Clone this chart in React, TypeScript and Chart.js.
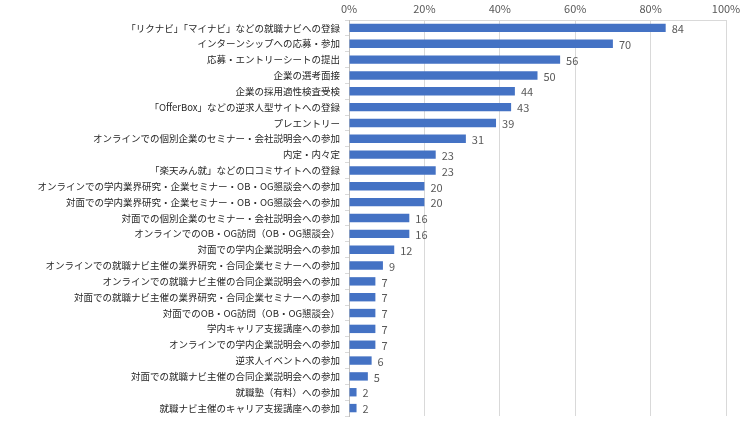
import React, { useEffect, useRef } from "react";
import { Chart, registerables } from "chart.js";

Chart.register(...registerables);

const categories: string[] = [
  "「リクナビ」「マイナビ」などの就職ナビへの登録",
  "インターンシップへの応募・参加",
  "応募・エントリーシートの提出",
  "企業の選考面接",
  "企業の採用適性検査受検",
  "「OfferBox」などの逆求人型サイトへの登録",
  "プレエントリー",
  "オンラインでの個別企業のセミナー・会社説明会への参加",
  "内定・内々定",
  "「楽天みん就」などの口コミサイトへの登録",
  "オンラインでの学内業界研究・企業セミナー・OB・OG懇談会への参加",
  "対面での学内業界研究・企業セミナー・OB・OG懇談会への参加",
  "対面での個別企業のセミナー・会社説明会への参加",
  "オンラインでのOB・OG訪問（OB・OG懇談会）",
  "対面での学内企業説明会への参加",
  "オンラインでの就職ナビ主催の業界研究・合同企業セミナーへの参加",
  "オンラインでの就職ナビ主催の合同企業説明会への参加",
  "対面での就職ナビ主催の業界研究・合同企業セミナーへの参加",
  "対面でのOB・OG訪問（OB・OG懇談会）",
  "学内キャリア支援講座への参加",
  "オンラインでの学内企業説明会への参加",
  "逆求人イベントへの参加",
  "対面での就職ナビ主催の合同企業説明会への参加",
  "就職塾（有料）への参加",
  "就職ナビ主催のキャリア支援講座への参加",
];

const values: number[] = [84, 70, 56, 50, 44, 43, 39, 31, 23, 23, 20, 20, 16, 16, 12, 9, 7, 7, 7, 7, 7, 6, 5, 2, 2];

const xTicks: number[] = [0, 20, 40, 60, 80, 100];

const FONT = "'Noto Sans CJK JP', 'Noto Sans', sans-serif";

const valueLabelPlugin = {
  id: "valueLabels",
  afterDatasetsDraw(chart: any) {
    const ctx = chart.ctx;
    const meta = chart.getDatasetMeta(0);
    ctx.save();
    ctx.font = `11px ${FONT}`;
    ctx.fillStyle = "#595959";
    ctx.textAlign = "left";
    ctx.textBaseline = "middle";
    meta.data.forEach((bar: any, i: number) => {
      ctx.fillText(String(values[i]), bar.x + 6, bar.y + 1);
    });
    ctx.restore();
  },
};

export default function App() {
  const ref = useRef<HTMLCanvasElement | null>(null);
  useEffect(() => {
    if (!ref.current) return;
    const chart = new Chart(ref.current, {
      type: "bar",
      data: {
        labels: categories,
        datasets: [
          {
            data: values,
            backgroundColor: "#4472C4",
            borderWidth: 0,
            categoryPercentage: 1,
            barPercentage: 0.53,
          },
        ],
      },
      options: {
        indexAxis: "y",
        animation: false,
        responsive: false,
        maintainAspectRatio: false,
        layout: { padding: { left: 0, right: 24, top: 0, bottom: 16 } },
        plugins: { legend: { display: false }, tooltip: { enabled: false } },
        scales: {
          x: {
            position: "top",
            min: 0,
            max: 100,
            afterBuildTicks(scale: any) {
              scale.ticks = xTicks.map((v) => ({ value: v }));
            },
            afterFit(scale: any) {
              scale.height = 20;
            },
            ticks: {
              color: "#595959",
              font: { family: FONT, size: 11 },
              padding: 5,
              callback: (v: any) => `${v}%`,
            },
            grid: { color: "#d9d9d9", drawTicks: false },
            border: { color: "#d9d9d9" },
          },
          y: {
            afterFit(scale: any) {
              scale.width = 349;
            },
            ticks: {
              color: "#262626",
              font: { family: FONT, size: 9.5 },
              padding: 5,
              autoSkip: false,
            },
            grid: { display: true, drawOnChartArea: false, tickLength: 4, color: "#d9d9d9", offset: true },
            border: { color: "#bfbfbf" },
          },
        },
      },
      plugins: [valueLabelPlugin],
    });
    return () => chart.destroy();
  }, []);
  return (
    <div style={{ position: "fixed", left: 0, top: 0, width: 750, height: 432, background: "#fff" }}>
      <canvas ref={ref} width={750} height={432} style={{ width: 750, height: 432 }} />
    </div>
  );
}
